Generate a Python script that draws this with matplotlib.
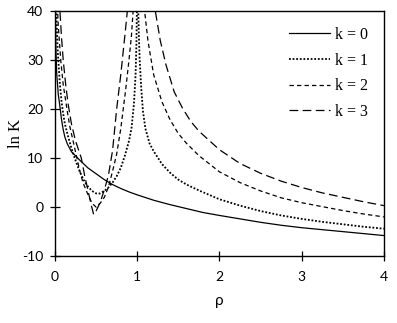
import matplotlib

matplotlib.use("Agg")

import matplotlib.pyplot as plt

plt.rcParams["axes.unicode_minus"] = False

# values (ln K against rho)
rho_k0 = [0.005, 0.01, 0.02, 0.04, 0.06, 0.08, 0.1, 0.12, 0.15, 0.2, 0.3, 0.4, 0.5,
          0.6, 0.7, 0.8, 0.9, 1.0, 1.2, 1.4, 1.6, 1.8, 2.0, 2.25, 2.5, 2.75, 3.0,
          3.25, 3.5, 3.75, 4.0]
lnk_k0 = [40, 33, 27.5, 23, 20.5, 17.8, 15.8, 14.3, 12.9, 11.3, 9.6, 8, 6.8,
          5.6, 4.6, 3.8, 3.1, 2.5, 1.4, 0.5, -0.3, -1.1, -1.7, -2.4, -3.1, -3.7, -4.2,
          -4.6, -5.0, -5.4, -5.8]

rho_k1 = [0.01, 0.02, 0.03, 0.04, 0.06, 0.08, 0.1, 0.12, 0.15, 0.2, 0.25, 0.3, 0.35,
          0.4, 0.45, 0.5, 0.52, 0.55, 0.6, 0.65, 0.7, 0.75, 0.8, 0.85, 0.9, 0.93,
          0.96, 0.98, 0.99, 1.0, 1.01, 1.02, 1.03, 1.05, 1.07, 1.1, 1.15, 1.2, 1.3,
          1.4, 1.5, 1.6, 1.75, 2.0, 2.25, 2.5, 2.75, 3.0, 3.25, 3.5, 3.75, 4.0]
lnk_k1 = [45, 38, 33, 30, 25, 21.5, 19, 17, 15, 12, 9.5, 7.3, 5.5,
          4.2, 3.3, 2.8, 2.7, 2.8, 3.3, 4.0, 5.0, 6.3, 8.0, 10.5, 13.5, 16,
          21, 27, 33, 45, 42, 35, 30, 24, 19.5, 16, 13, 11.4, 8.8,
          7.0, 5.6, 4.6, 3.4, 1.6, 0.3, -0.8, -1.7, -2.4, -3.0, -3.5, -4.0, -4.4]

rho_k2 = [0.02, 0.04, 0.07, 0.1, 0.15, 0.18, 0.22, 0.26, 0.3, 0.34, 0.4, 0.45, 0.5,
          0.55, 0.6, 0.65, 0.7, 0.75, 0.8, 0.83, 0.86, 0.9, 0.93, 0.95, 0.97,
          1.05, 1.09, 1.13, 1.2, 1.3, 1.4, 1.5, 1.6, 1.75, 2.0, 2.25, 2.5, 2.75,
          3.0, 3.25, 3.5, 3.75, 4.0]
lnk_k2 = [45, 37, 30, 25, 19.5, 16.5, 13.5, 10.5, 7.5, 5.0, 2.6, 0.8, 0.0,
          0.8, 2.0, 4.1, 7.3, 10.8, 16, 20, 24, 30, 35, 40, 46,
          48, 40, 34, 27, 21.5, 17.8, 15, 13, 10.5, 7.2, 5.0, 3.3, 1.9,
          0.9, 0.1, -0.7, -1.4, -2.0]

rho_k3 = [0.04, 0.06, 0.08, 0.1, 0.13, 0.16, 0.2, 0.25, 0.29, 0.32, 0.36, 0.4, 0.44,
          0.47, 0.5, 0.55, 0.6, 0.65, 0.7, 0.75, 0.8, 0.85, 0.88, 0.9,
          1.17, 1.22, 1.28, 1.35, 1.45, 1.55, 1.65, 1.75, 2.0, 2.25, 2.5, 2.75,
          3.0, 3.25, 3.5, 3.75, 4.0]
lnk_k3 = [46, 40, 34.5, 30, 25, 21, 17, 13.5, 11.5, 10, 6.5, 3.5, 0.5,
          -1.5, -0.8, 1.0, 3.5, 6.5, 11.5, 20, 27, 35, 40, 45,
          46, 40, 34, 29, 23.5, 20.2, 17.5, 15.5, 11.7, 8.9, 6.9, 5.3,
          4.0, 2.9, 2.0, 1.1, 0.3]

series = [
    ("k = 0", rho_k0, lnk_k0, "-", 0.9),
    ("k = 1", rho_k1, lnk_k1, (0, (1.0, 1.0)), 1.3),
    ("k = 2", rho_k2, lnk_k2, (0, (3.5, 2.5)), 0.9),
    ("k = 3", rho_k3, lnk_k3, (0, (7, 3.5)), 0.9),
]

sans = ["Lato", "DejaVu Sans"]
serif = ["Liberation Serif", "DejaVu Serif"]

fig = plt.figure(figsize=(3.97, 3.23), dpi=100)
ax = fig.add_axes([0.1385, 0.207, 0.8285, 0.759])

for label, x, y, style, lw in series:
    ax.plot(x, y, color="black", linestyle=style, linewidth=lw, label=label)

ax.set_xlim(0, 4)
ax.set_ylim(-10, 40)
ax.set_xticks([0, 1, 2, 3, 4])
ax.set_yticks([-10, 0, 10, 20, 30, 40])
ax.tick_params(direction="inout", length=7, width=0.9, labelsize=10)
ax.tick_params(axis="x", pad=7)
ax.tick_params(axis="y", pad=5)
for t in ax.get_xticklabels() + ax.get_yticklabels():
    t.set_family(sans)
for s in ax.spines.values():
    s.set_linewidth(1.0)

ax.set_xlabel("ρ", family=sans, fontsize=11, labelpad=8)
ax.set_ylabel("ln K", family=serif, fontsize=12)
ax.yaxis.set_label_coords(-0.095, 0.5)

leg = ax.legend(loc="upper right", frameon=False, handlelength=2.6,
                labelspacing=0.6, handletextpad=0.3, borderaxespad=0.6,
                prop={"family": serif, "size": 11.5})

fig.savefig("out.png", dpi=100)
